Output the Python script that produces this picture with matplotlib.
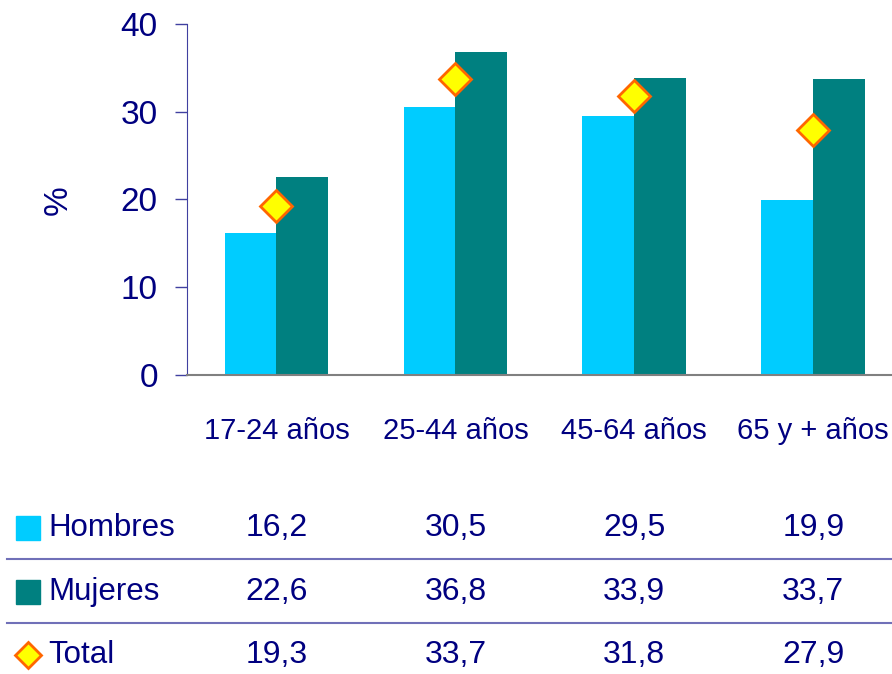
import matplotlib
matplotlib.use("Agg")
import matplotlib.pyplot as plt
import matplotlib.transforms as mtransforms
from matplotlib.lines import Line2D
import numpy as np

plt.rcParams["font.family"] = ["Liberation Sans", "DejaVu Sans"]

categories = ["17-24 años", "25-44 años", "45-64 años", "65 y + años"]
hombres = [16.2, 30.5, 29.5, 19.9]
mujeres = [22.6, 36.8, 33.9, 33.7]
total = [19.3, 33.7, 31.8, 27.9]
y_ticks = [0, 10, 20, 30, 40]

NAVY = "#000080"
C_HOMBRES = "#00CCFF"
C_MUJERES = "#008080"

fig = plt.figure(figsize=(8.92, 6.74), dpi=100)
ax = fig.add_axes([187 / 892, 299 / 674, 705 / 892, 351 / 674])

x = np.arange(len(categories))
w = 0.29
ax.bar(x - w / 2, hombres, width=w, color=C_HOMBRES, zorder=2)
ax.bar(x + w / 2, mujeres, width=w, color=C_MUJERES, zorder=2)
ax.plot(x, total, linestyle="none", marker="D", markersize=16,
        markerfacecolor="#FFFF00", markeredgecolor="#FF6600",
        markeredgewidth=2, zorder=3)

ax.set_xlim(-0.5, 3.44)
ax.set_ylim(0, 40)
ax.set_yticks(y_ticks)
ax.set_yticklabels([str(t) for t in y_ticks], fontsize=24, color=NAVY)
ax.tick_params(axis="y", length=9, width=1, color="#4040a0", pad=12)
ax.set_xticks(x)
ax.set_xticklabels(categories, fontsize=21, color=NAVY)
ax.tick_params(axis="x", length=0, pad=30)

for s in ["top", "right"]:
    ax.spines[s].set_visible(False)
ax.spines["left"].set_color("#4040a0")
ax.spines["bottom"].set_color("#808080")
ax.spines["bottom"].set_linewidth(1.5)
ax.spines["bottom"].set_zorder(4)

fig.text(58 / 892, 1 - 200 / 674, "%", rotation=90, fontsize=24, color=NAVY,
         ha="center", va="center")

# data table below the chart
trans = mtransforms.blended_transform_factory(ax.transData, fig.transFigure)
rows = [("Hombres", hombres), ("Mujeres", mujeres), ("Total", total)]
row_y = [1 - 528 / 674, 1 - 592 / 674, 1 - 655 / 674]
for (name, vals), yy in zip(rows, row_y):
    fig.text(48 / 892, yy, name, fontsize=22.5, color=NAVY, ha="left", va="center")
    for xi, v in zip(x, vals):
        ax.text(xi, yy, f"{v:.1f}".replace(".", ","), transform=trans,
                fontsize=23, color=NAVY, ha="center", va="center", clip_on=False)

# legend keys
fig.add_artist(Line2D([28 / 892], [row_y[0]], marker="s", markersize=17,
                      color=C_HOMBRES, linestyle="none"))
fig.add_artist(Line2D([28 / 892], [row_y[1]], marker="s", markersize=17,
                      color=C_MUJERES, linestyle="none"))
fig.add_artist(Line2D([28 / 892], [row_y[2]], marker="D", markersize=13,
                      markerfacecolor="#FFFF00", markeredgecolor="#FF6600",
                      markeredgewidth=2, linestyle="none"))

for yy in [1 - 559 / 674, 1 - 623 / 674]:
    fig.add_artist(Line2D([7 / 892, 1], [yy, yy], color="#7070b8", linewidth=1.5))

fig.savefig("out.png", dpi=100)
